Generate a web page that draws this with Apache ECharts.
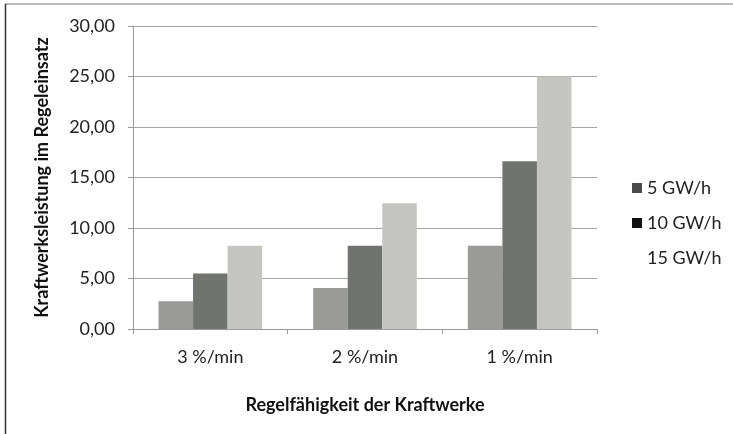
<!DOCTYPE html>
<html>
<head>
<meta charset="utf-8">
<script src="https://cdn.jsdelivr.net/npm/echarts@6/dist/echarts.min.js"></script>
<style>
  html, body { margin: 0; padding: 0; background: #fff; }
  #chart { width: 733px; height: 434px; }
</style>
</head>
<body>
<div id="chart"></div>
<script>
var categories = ['3 %/min', '2 %/min', '1 %/min']
var seriesNames = ['5 GW/h', '10 GW/h', '15 GW/h']
var gw5 = [2.75, 4.05, 8.25]
var gw10 = [5.5, 8.25, 16.6]
var gw15 = [8.25, 12.45, 25.0]
var yTicks = [0, 5, 10, 15, 20, 25, 30]

var font = 'Lato, "Open Sans", sans-serif'
var barColors = ['#9a9b97', '#71736f', '#c5c6c2']
var legendColors = ['#4a4a4a', '#111111', '#ffffff']

var chart = echarts.init(document.getElementById('chart'))
chart.setOption({
  animation: false,
  textStyle: { fontFamily: font },
  grid: { left: 133, right: 136, top: 26, bottom: 105 },
  // scanned frame: only top and left edges visible
  graphic: [
    { type: 'line', shape: { x1: 5, y1: 4, x2: 733, y2: 4 }, style: { stroke: '#777', lineWidth: 1 } },
    { type: 'line', shape: { x1: 5.5, y1: 4, x2: 5.5, y2: 434 }, style: { stroke: '#333', lineWidth: 1.5 } }
  ],
  legend: {
    orient: 'vertical',
    left: 627,
    top: 174,
    itemWidth: 10,
    itemHeight: 10,
    itemGap: 17,
    icon: 'rect',
    textStyle: { fontSize: 18, color: '#222', fontFamily: font },
    data: seriesNames.map(function (n, i) {
      return { name: n, itemStyle: { color: legendColors[i] } }
    })
  },
  xAxis: {
    type: 'category',
    data: categories,
    name: 'Regelfähigkeit der Kraftwerke',
    nameLocation: 'middle',
    nameGap: 67,
    nameTextStyle: { fontSize: 18, fontWeight: 'bold', color: '#111', fontFamily: font },
    axisLine: { lineStyle: { color: '#999' } },
    axisTick: { show: true, alignWithLabel: false, length: 5, lineStyle: { color: '#999' } },
    axisLabel: { fontSize: 18, color: '#222', margin: 19, fontFamily: font }
  },
  yAxis: {
    type: 'value',
    min: yTicks[0],
    max: yTicks[yTicks.length - 1],
    interval: 5,
    name: 'Kraftwerksleistung im Regeleinsatz',
    nameLocation: 'middle',
    nameGap: 82,
    nameRotate: 90,
    nameTextStyle: { fontSize: 18, fontWeight: 'bold', color: '#111', fontFamily: font },
    axisLine: { show: true, lineStyle: { color: '#999' } },
    axisTick: { show: true, length: 5, inside: false, lineStyle: { color: '#999' } },
    splitLine: { lineStyle: { color: '#a5a5a5' } },
    axisLabel: {
      fontSize: 18,
      color: '#222',
      margin: 18,
      fontFamily: font,
      formatter: function (v) { return v.toFixed(2).replace('.', ',') }
    }
  },
  series: [gw5, gw10, gw15].map(function (d, i) {
    return {
      name: seriesNames[i],
      type: 'bar',
      data: d,
      barGap: '0%',
      barCategoryGap: '33%',
      itemStyle: { color: barColors[i] }
    }
  })
})
</script>
</body>
</html>
